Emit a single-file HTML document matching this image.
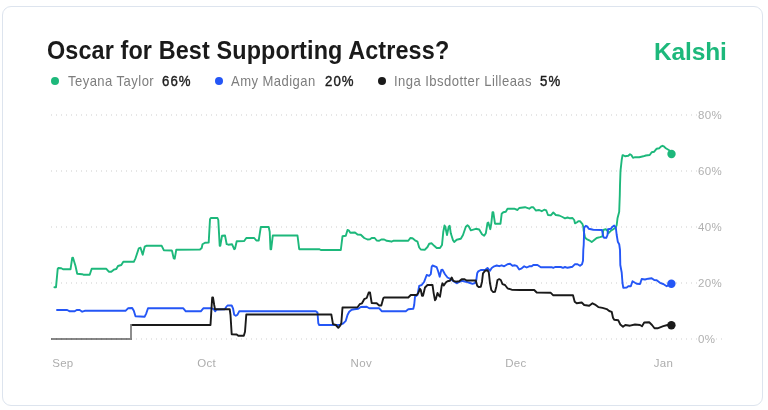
<!DOCTYPE html>
<html lang="en">
<head>
<meta charset="utf-8">
<title>Oscar for Best Supporting Actress?</title>
<style>
html,body{margin:0;padding:0;background:#fff;}
body{width:768px;height:410px;position:relative;overflow:hidden;font-family:"Liberation Sans",sans-serif;}
.card{position:absolute;left:2px;top:6px;width:759px;height:398px;border:1px solid #dde4ee;border-radius:9px;background:#fff;}
.title{position:absolute;left:47.2px;top:34.6px;font-size:26px;line-height:30px;font-weight:700;color:#1a1a1a;white-space:nowrap;letter-spacing:0.13px;transform:scaleX(0.9);transform-origin:0 0;}
.logo{position:absolute;left:654px;top:37px;font-size:24.5px;line-height:30px;font-weight:700;color:#1db87b;white-space:nowrap;letter-spacing:-0.15px;}
.lg{position:absolute;top:72.8px;font-size:14.5px;line-height:16px;color:#7d7d7d;white-space:nowrap;letter-spacing:0.5px;transform:scaleX(0.9);transform-origin:0 0;}
.lg b{color:#1c1c1c;font-weight:400;font-size:14.7px;letter-spacing:1.2px;-webkit-text-stroke:0.4px #1c1c1c;}
.dot{position:absolute;top:77px;width:8px;height:8px;border-radius:50%;}
.yl{position:absolute;left:698px;background:#fff;z-index:2;font-size:11.5px;line-height:14px;color:#b0b0b0;white-space:nowrap;letter-spacing:0.4px;}
.xl{position:absolute;top:356px;font-size:11.5px;line-height:14px;color:#adadad;white-space:nowrap;letter-spacing:0.3px;}
svg{position:absolute;left:0;top:0;}
</style>
</head>
<body>
<div class="card"></div>
<div class="title">Oscar for Best Supporting Actress?</div>
<div class="logo">Kalshi</div>

<div class="dot" style="left:51px;background:#1db87b"></div>
<div class="lg" style="left:67.5px">Teyana Taylor</div>
<div class="lg" style="left:162px"><b>66%</b></div>
<div class="dot" style="left:215px;background:#2456f6"></div>
<div class="lg" style="left:231.2px">Amy Madigan</div>
<div class="lg" style="left:325px"><b>20%</b></div>
<div class="dot" style="left:378px;background:#1a1a1a"></div>
<div class="lg" style="left:394px">Inga Ibsdotter Lilleaas</div>
<div class="lg" style="left:539.5px"><b>5%</b></div>

<div class="yl" style="top:108px">80%</div>
<div class="yl" style="top:164px">60%</div>
<div class="yl" style="top:220px">40%</div>
<div class="yl" style="top:276px">20%</div>
<div class="yl" style="top:332px">0%</div>

<div class="xl" style="left:52.2px">Sep</div>
<div class="xl" style="left:197.2px">Oct</div>
<div class="xl" style="left:350.6px">Nov</div>
<div class="xl" style="left:505.2px">Dec</div>
<div class="xl" style="left:653.8px">Jan</div>

<svg width="768" height="410" viewBox="0 0 768 410">
<g stroke="#cdcdcd" stroke-width="1" stroke-dasharray="1 4" fill="none">
<line x1="51" y1="115" x2="722.5" y2="115" />
<line x1="51" y1="171" x2="722.5" y2="171" />
<line x1="51" y1="227" x2="722.5" y2="227" />
<line x1="51" y1="283" x2="722.5" y2="283" />
<line x1="51" y1="339" x2="722.5" y2="339" />
</g>
<g fill="none" stroke-width="1.9" stroke-linejoin="round" stroke-linecap="round">
<path stroke="#1db87b" d="M54.4 287.2 L56.0 287.2 L57.7 268.8 L58.3 268.0 L61.3 268.3 L63.0 269.3 L70.5 269.3 L72.2 258.0 L73.0 257.7 L75.5 266.0 L77.2 273.8 L82.2 274.2 L83.8 274.8 L89.7 274.8 L91.7 268.8 L106.3 268.8 L108.8 271.7 L111.3 271.7 L113.8 269.7 L116.3 269.0 L118.0 266.0 L121.3 265.0 L123.3 261.8 L133.8 261.8 L135.5 258.3 L138.8 248.3 L140.5 247.7 L142.7 254.7 L144.7 246.7 L146.3 245.8 L161.7 245.8 L163.8 250.2 L171.7 250.5 L172.0 250.8 L173.7 258.3 L174.7 258.7 L176.3 249.7 L200.0 249.5 L201.7 248.0 L202.5 244.2 L205.0 242.7 L208.7 242.5 L210.0 219.2 L210.8 218.0 L217.5 218.0 L218.3 220.0 L219.7 245.8 L220.3 245.8 L222.0 235.8 L225.0 235.5 L226.7 244.2 L228.3 244.7 L232.0 244.2 L234.2 249.2 L235.0 248.7 L236.7 241.3 L244.2 241.0 L246.3 238.0 L254.2 238.0 L256.3 240.5 L258.7 240.5 L260.8 227.0 L268.7 227.0 L269.7 231.7 L270.5 249.2 L271.2 249.2 L272.8 235.5 L297.5 235.5 L299.2 249.2 L319.2 249.2 L320.8 250.0 L340.8 250.0 L342.5 236.3 L345.8 235.8 L347.5 230.0 L348.7 230.3 L350.3 232.8 L355.0 232.5 L357.5 234.5 L360.8 234.7 L364.2 238.0 L367.5 239.5 L370.0 239.2 L371.7 238.0 L374.7 238.0 L376.7 240.5 L379.2 240.8 L381.3 239.5 L384.2 239.5 L386.7 240.8 L390.0 241.2 L391.3 241.7 L393.3 240.8 L408.3 240.8 L410.3 238.0 L412.5 238.3 L415.0 240.3 L417.5 241.7 L419.2 247.5 L420.8 249.5 L425.0 249.7 L427.5 247.0 L429.2 243.8 L431.7 243.3 L434.2 245.8 L436.7 248.0 L440.0 248.0 L442.0 245.0 L443.3 231.7 L444.5 225.5 L445.3 226.7 L447.0 235.0 L448.7 226.7 L449.7 225.8 L450.8 233.3 L453.0 240.3 L454.2 242.0 L456.7 239.7 L460.8 238.8 L463.0 235.0 L465.8 226.7 L467.5 225.3 L468.7 226.2 L470.8 230.3 L475.8 228.8 L479.2 229.5 L482.0 234.2 L484.2 235.8 L485.8 233.3 L487.5 223.0 L488.3 222.5 L490.3 229.2 L491.3 223.3 L492.5 212.2 L493.3 212.2 L495.0 223.7 L500.5 223.7 L501.7 213.7 L503.3 212.2 L505.8 211.7 L507.5 208.8 L514.2 208.7 L517.5 210.0 L519.2 208.0 L525.0 207.2 L529.2 208.7 L531.3 207.2 L533.3 207.2 L535.8 210.5 L539.2 210.0 L541.7 211.2 L544.2 209.7 L546.3 210.5 L548.0 215.0 L550.8 215.3 L553.3 212.5 L555.8 215.0 L559.2 215.5 L562.5 217.0 L565.0 218.3 L567.5 217.5 L570.0 218.3 L572.5 218.0 L574.2 220.0 L575.0 223.3 L576.7 222.5 L578.3 221.2 L580.0 221.2 L582.5 224.2 L583.3 226.7 L583.7 230.8 L585.0 237.5 L586.7 239.2 L589.2 240.3 L591.7 242.0 L593.3 240.8 L596.7 238.0 L600.0 237.2 L602.5 236.3 L603.3 230.0 L605.8 229.2 L607.5 230.8 L608.3 233.3 L610.8 230.8 L613.3 229.2 L615.8 227.5 L616.7 225.0 L617.5 218.3 L619.2 211.7 L619.8 195.0 L620.0 185.0 L620.5 170.8 L621.7 160.0 L622.5 155.3 L623.3 155.3 L625.0 156.3 L628.3 155.8 L630.0 154.2 L631.3 155.0 L633.0 157.8 L635.0 157.2 L639.2 157.2 L643.3 156.3 L645.8 155.5 L649.7 155.0 L651.7 152.2 L654.2 151.7 L656.7 148.7 L659.2 148.3 L660.8 146.7 L662.5 145.8 L664.2 146.7 L665.8 148.3 L669.2 150.3 L671.5 154.0"/>
<path stroke="#2456f6" d="M57.0 310.0 L67.2 310.0 L69.7 311.3 L74.7 311.3 L76.7 310.0 L79.7 310.0 L82.2 311.7 L84.7 310.8 L125.5 310.8 L128.0 308.3 L132.2 308.0 L133.8 310.8 L135.5 316.3 L144.7 316.7 L146.3 313.3 L148.0 308.3 L183.3 308.3 L185.8 311.3 L200.8 311.3 L203.3 308.3 L211.7 308.3 L213.7 309.2 L215.3 311.3 L216.5 309.5 L224.8 309.3 L226.2 307.0 L227.5 305.5 L231.7 305.5 L233.0 308.3 L234.2 314.7 L235.8 315.8 L237.5 314.7 L239.2 311.3 L315.8 311.2 L317.5 312.5 L318.3 323.3 L319.2 325.0 L340.0 325.0 L343.3 323.3 L345.8 320.8 L347.5 315.0 L349.2 311.7 L351.7 309.7 L354.2 309.2 L358.3 308.7 L360.8 307.0 L366.7 306.7 L369.2 308.3 L379.2 308.3 L381.7 311.2 L405.8 311.2 L408.3 309.2 L413.3 308.8 L414.2 305.0 L415.0 296.7 L417.5 295.0 L419.2 285.8 L421.7 285.0 L424.2 281.7 L426.7 275.0 L429.2 275.8 L430.8 274.2 L431.7 266.7 L432.5 265.5 L436.7 267.2 L438.3 271.7 L439.7 276.7 L441.3 270.0 L442.5 269.7 L445.0 274.2 L447.5 277.5 L450.8 279.2 L454.2 281.7 L456.7 283.3 L458.3 282.5 L461.7 280.8 L465.8 281.7 L470.0 283.0 L472.5 283.8 L475.0 283.0 L476.3 280.0 L477.2 273.3 L478.3 271.3 L480.8 270.0 L485.0 270.0 L487.5 268.0 L490.0 270.8 L491.7 268.0 L494.2 266.3 L496.7 265.5 L499.2 266.2 L501.7 265.3 L504.2 266.3 L507.5 264.2 L510.0 263.8 L512.5 265.8 L515.0 265.3 L516.7 265.8 L519.2 269.5 L521.7 268.3 L524.2 266.3 L526.7 267.5 L529.2 266.3 L531.7 266.3 L533.3 265.0 L537.5 265.0 L540.8 267.2 L551.7 267.2 L553.3 267.8 L555.0 267.0 L560.8 267.0 L563.0 267.8 L565.0 267.0 L567.5 267.8 L572.5 266.7 L575.0 264.2 L577.5 264.2 L580.0 265.8 L582.0 264.2 L583.0 260.8 L583.3 250.0 L583.7 245.0 L584.2 227.5 L585.8 225.8 L587.5 226.7 L588.7 228.8 L593.3 229.7 L602.0 230.0 L603.3 236.7 L604.2 237.8 L606.3 237.8 L607.5 235.0 L608.0 229.2 L610.8 228.8 L612.5 226.7 L614.2 225.5 L615.8 227.5 L616.7 235.0 L617.8 241.7 L619.2 244.2 L620.0 250.0 L620.3 265.0 L621.7 272.5 L622.5 283.0 L623.3 287.8 L626.7 287.5 L628.3 286.3 L630.8 286.3 L632.5 281.2 L635.0 282.8 L636.7 283.8 L640.0 284.0 L641.7 279.0 L645.0 279.5 L648.3 278.7 L651.7 278.2 L654.2 280.0 L656.7 280.3 L660.0 282.8 L663.3 284.0 L666.7 286.2 L671.4 283.7"/>
<path stroke="#000" stroke-opacity="0.47" stroke-linecap="butt" stroke-linejoin="miter" d="M51.0 339.0 L131.0 339.0 L131.0 324.1"/>
<path stroke="#1a1a1a" d="M132.5 325.0 L210.5 325.0 L211.7 305.0 L212.2 297.5 L213.0 297.5 L214.2 305.0 L215.0 309.2 L229.7 309.2 L230.5 315.0 L231.7 334.2 L236.7 334.5 L238.3 335.8 L243.8 335.8 L245.0 331.7 L246.3 314.5 L331.3 314.4 L333.0 324.2 L335.8 325.0 L338.3 327.8 L340.0 325.8 L341.3 323.3 L342.5 307.5 L357.5 307.2 L359.7 304.2 L362.0 303.3 L364.2 299.2 L366.7 298.0 L368.7 292.5 L370.0 292.5 L371.7 303.0 L376.7 303.3 L379.2 305.5 L381.3 305.5 L383.3 298.3 L384.2 297.5 L408.3 297.5 L410.8 295.0 L416.7 295.0 L418.3 293.0 L420.0 288.8 L420.8 290.0 L422.0 295.8 L423.0 295.8 L425.0 287.5 L427.5 285.0 L432.5 285.0 L433.7 293.3 L435.0 300.3 L435.8 299.2 L437.5 293.0 L438.7 295.3 L440.0 296.7 L441.7 285.8 L442.5 283.3 L443.8 285.5 L445.8 282.5 L447.5 281.2 L450.0 280.8 L451.7 277.5 L453.3 280.8 L455.8 281.7 L459.2 281.3 L461.7 279.2 L464.2 279.2 L466.7 280.5 L475.8 280.5 L477.2 285.8 L478.7 287.0 L480.8 286.7 L482.0 281.7 L483.0 273.3 L485.0 270.8 L487.5 270.3 L488.8 272.5 L490.0 283.3 L491.3 290.0 L493.0 292.0 L495.0 291.7 L496.3 286.7 L497.5 280.0 L499.2 279.2 L500.8 280.0 L502.5 284.2 L505.0 285.0 L507.5 288.3 L511.7 289.7 L520.0 290.0 L534.2 290.0 L536.7 292.5 L550.8 292.8 L553.3 295.3 L573.0 295.3 L574.7 301.7 L576.7 303.3 L581.7 302.5 L584.2 305.0 L589.2 305.8 L592.5 303.3 L595.0 304.6 L598.3 307.1 L602.5 307.9 L606.7 309.1 L609.2 311.0 L611.7 311.8 L613.0 317.8 L614.2 319.8 L618.3 320.3 L620.3 324.5 L623.0 326.7 L625.3 325.0 L630.0 325.7 L635.0 324.5 L640.0 325.0 L642.0 326.2 L644.2 322.5 L649.2 322.3 L652.0 325.0 L654.5 328.3 L657.5 328.3 L663.3 326.2 L667.5 325.0 L671.4 325.3"/>
</g>
<circle cx="671.5" cy="154" r="4.2" fill="#1db87b"/>
<circle cx="671.4" cy="283.7" r="4.2" fill="#2456f6"/>
<circle cx="671.4" cy="325.3" r="4.2" fill="#1a1a1a"/>
</svg>
</body>
</html>
